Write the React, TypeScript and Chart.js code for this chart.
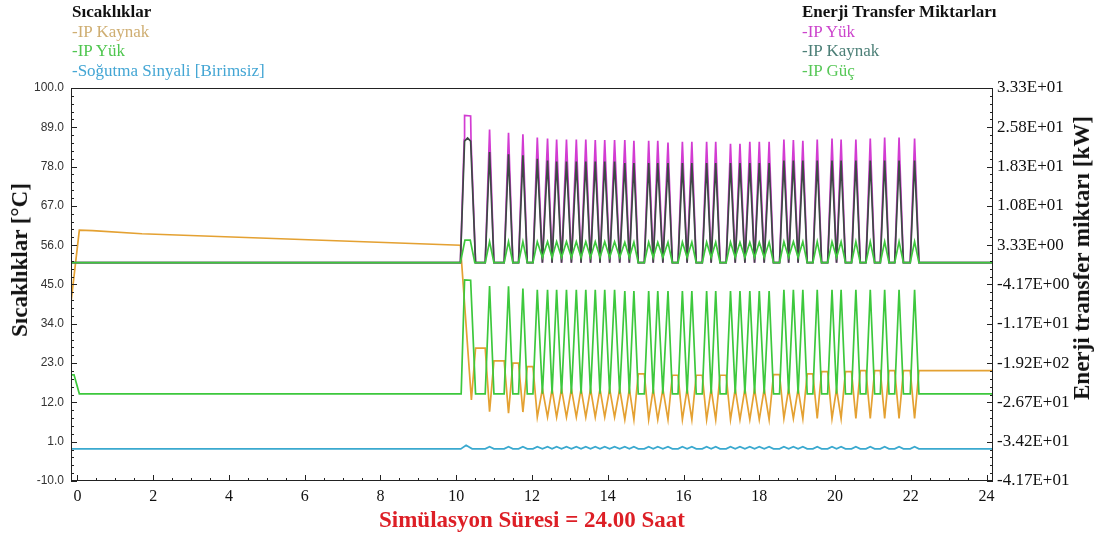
import React, { useEffect, useRef } from 'react';
import { Chart, registerables } from 'chart.js';

Chart.register(...registerables);

// ---------- axes ----------
const X_TICKS = [0, 2, 4, 6, 8, 10, 12, 14, 16, 18, 20, 22, 24];
const LEFT_TICKS = [-10, 1, 12, 23, 34, 45, 56, 67, 78, 89, 100];
const RIGHT_TICKS = [-41.67, -34.17, -26.67, -19.17, -11.67, -4.17, 3.33, 10.83, 18.33, 25.83, 33.33];
const RIGHT_TICK_LABELS = ['-4.17E+01', '-3.42E+01', '-2.67E+01', '-1.92E+02', '-1.17E+01', '-4.17E+00', '3.33E+00', '1.08E+01', '1.83E+01', '2.58E+01', '3.33E+01'];

// ---------- data (hours, values) ----------
// start-up part of each series (until the first big cycle ends)
const KAYNAK_TEMP_LEAD: [number, number][] = [[-0.17, 40], [-0.15, 40], [0.05, 60.2], [0.4, 60.1], [1.7, 59.2], [10.11, 56.0], [10.4, 12.7], [10.51, 27.2]];
const YUK_TEMP_LEAD: [number, number][] = [[-0.17, 19.7], [-0.09, 19.7], [0.05, 14.4], [10.13, 14.4], [10.22, 46.3], [10.38, 46.2], [10.51, 14.4]];
const SIGNAL_LEAD: [number, number][] = [[-0.17, -1], [10.12, -1], [10.26, 0.0], [10.42, -1]];
const YUK_ENERGY_LEAD: [number, number][] = [[-0.17, 0], [10.11, 0], [10.21, 23.5], [10.22, 28.1], [10.38, 28.0], [10.39, 23.5], [10.51, 0]];
const KAYNAK_ENERGY_LEAD: [number, number][] = [[-0.17, 0], [10.11, 0], [10.22, 23.2], [10.3, 23.8], [10.38, 23.2], [10.51, 0]];
const GUC_LEAD: [number, number][] = [[-0.17, 0], [10.11, 0], [10.23, 4.3], [10.37, 4.3], [10.49, 0]];

// on/off cycles: time of each cycle peak
const PEAK_TIMES = [10.88, 11.38, 11.76, 12.14, 12.41, 12.65, 12.91, 13.17, 13.42, 13.67, 13.92, 14.18,
  14.45, 14.69, 15.08, 15.32, 15.59, 15.97, 16.22, 16.61, 16.85, 17.24, 17.49, 17.75, 18.0, 18.26,
  18.65, 18.9, 19.15, 19.53, 19.92, 20.16, 20.55, 20.93, 21.31, 21.69, 22.1];

const YUK_ENERGY_PEAKS = [25.4, 24.8, 24.5, 23.9, 23.7, 23.5, 23.5, 23.5, 23.5, 23.4, 23.4, 23.4,
  23.4, 23.25, 23.25, 23.25, 22.9, 23.05, 23.05, 23.05, 23.05, 22.7, 22.7, 23.05, 23.05, 23.05,
  23.5, 23.4, 23.25, 23.5, 23.7, 23.5, 23.5, 23.7, 23.9, 23.9, 23.7];
const KAYNAK_ENERGY_PEAKS = [21.1, 20.7, 20.5, 19.8, 19.5, 19.3, 19.3, 19.3, 19.3, 19.3, 19.3, 19.3,
  19.0, 19.0, 19.0, 19.0, 19.0, 19.0, 19.0, 19.0, 19.0, 19.0, 19.0, 19.0, 19.0, 19.0,
  19.5, 19.5, 19.5, 19.5, 19.5, 19.5, 19.5, 19.5, 19.5, 19.5, 19.5];
const GUC_PEAKS = [4.0, 4.0, 4.0, 4.0, 4.0, 4.0, 4.0, 4.0, 4.0, 4.0, 4.0, 4.0,
  3.9, 3.9, 3.9, 3.9, 3.9, 3.9, 3.9, 3.9, 3.9, 3.9, 3.9, 3.9, 3.9, 3.9,
  4.0, 4.0, 4.0, 4.0, 4.0, 4.0, 4.0, 4.0, 4.0, 4.0, 4.0];
const YUK_TEMP_PEAKS = [44.6, 44.5, 43.9, 43.5, 43.5, 43.5, 43.5, 43.5, 43.5, 43.5, 43.5, 43.5,
  43.2, 43.2, 43.2, 43.2, 43.2, 43.2, 43.2, 43.2, 43.2, 43.2, 43.2, 43.2, 43.2, 43.2,
  43.5, 43.5, 43.5, 43.5, 43.5, 43.5, 43.5, 43.5, 43.5, 43.5, 43.5];
const KAYNAK_TEMP_MINS = [9.4, 9.0, 9.3, 7.9, 7.9, 7.9, 7.9, 7.9, 7.9, 7.9, 7.9, 7.9,
  7.2, 7.2, 7.2, 7.2, 7.2, 7.2, 7.2, 7.2, 7.2, 7.2, 7.2, 7.2, 7.2, 7.2,
  7.5, 7.5, 7.5, 7.5, 7.5, 7.5, 7.5, 7.5, 7.5, 7.5, 7.5];
const SIGNAL_PEAKS = [-0.4, -0.4, -0.4, -0.4, -0.4, -0.4, -0.4, -0.4, -0.4, -0.4, -0.4, -0.4,
  -0.4, -0.4, -0.4, -0.4, -0.4, -0.4, -0.4, -0.4, -0.4, -0.4, -0.4, -0.4, -0.4, -0.4,
  -0.4, -0.4, -0.4, -0.4, -0.4, -0.4, -0.4, -0.4, -0.4, -0.4, -0.4];
// IP Kaynak temperature level after each cycle (plateau or valley top)
const KAYNAK_TEMP_AFTER = [23.6, 23.0, 22.0, 15.8, 15.8, 15.8, 15.8, 15.8, 15.8, 15.8, 15.8, 15.8, 15.8,
  20.0, 15.8, 15.8, 19.6, 15.8, 19.6, 15.8, 19.6, 15.8, 15.8, 15.8, 15.8,
  19.8, 15.8, 15.8, 20.0, 20.6, 15.8, 20.6, 20.9, 20.9, 20.9, 20.9, 20.9];

const YUK_TEMP_BASE = 14.4;
const SIGNAL_BASE = -1.0;
const GUC_BETWEEN_CLOSE = 1.0;

const KAYNAK_TEMP_TAIL: [number, number][] = [[24.17, 20.9]];
const YUK_TEMP_TAIL: [number, number][] = [[24.17, 14.4]];
const SIGNAL_TAIL: [number, number][] = [[24.17, -1]];
const ENERGY_TAIL: [number, number][] = [[24.17, 0]];

// width of the rising / falling flank of one cycle (hours) and spacing of back-to-back cycles
const FLANK = 0.115;
const CLOSE_GAP = 0.32;

function build(lead: [number, number][], peaks: number[], after: (i: number, close: boolean) => number, tail: [number, number][]) {
  const pts = lead.map(([x, y]) => ({ x, y }));
  let level = lead[lead.length - 1][1];
  const n = PEAK_TIMES.length;
  for (let i = 0; i < n; i++) {
    const t = PEAK_TIMES[i];
    const closeBefore = i > 0 && t - PEAK_TIMES[i - 1] < CLOSE_GAP;
    if (!closeBefore) pts.push({ x: t - FLANK, y: level });
    pts.push({ x: t, y: peaks[i] });
    const closeAfter = i < n - 1 && PEAK_TIMES[i + 1] - t < CLOSE_GAP;
    if (closeAfter) {
      pts.push({ x: (t + PEAK_TIMES[i + 1]) / 2, y: after(i, true) });
    } else {
      level = after(i, false);
      pts.push({ x: t + FLANK, y: level });
    }
  }
  tail.forEach(([x, y]) => pts.push({ x, y }));
  return pts;
}

const C_ORANGE = '#E4A132';
const C_GREEN = '#3DC83D';
const C_BLUE = '#3AA9CF';
const C_MAGENTA = '#D23CD2';
const C_DARK = '#3D4944';

const SERIF = '"Liberation Serif", "Times New Roman", serif';
const SANS = '"Liberation Sans", Arial, sans-serif';

const framePlugin = {
  id: 'frame',
  afterDraw(chart: any) {
    const { ctx, chartArea: a, scales } = chart;
    ctx.save();
    ctx.strokeStyle = '#222';
    ctx.lineWidth = 1;
    ctx.strokeRect(Math.round(a.left) + 0.5, Math.round(a.top) + 0.5, Math.round(a.width) - 1, Math.round(a.height) - 1);
    ctx.beginPath();
    const xs = scales.x;
    const xStep = (X_TICKS[1] - X_TICKS[0]) / 4;
    for (let k = 0; X_TICKS[0] + k * xStep <= X_TICKS[X_TICKS.length - 1] + 1e-9; k++) {
      const px = Math.round(xs.getPixelForValue(X_TICKS[0] + k * xStep)) + 0.5;
      const len = k % 4 === 0 ? 6 : 3;
      ctx.moveTo(px, a.bottom);
      ctx.lineTo(px, a.bottom - len);
    }
    const ys = scales.y;
    const yStep = (LEFT_TICKS[1] - LEFT_TICKS[0]) / 5;
    for (let k = 0; LEFT_TICKS[0] + k * yStep <= LEFT_TICKS[LEFT_TICKS.length - 1] + 1e-9; k++) {
      const py = Math.round(ys.getPixelForValue(LEFT_TICKS[0] + k * yStep)) + 0.5;
      const len = k % 5 === 0 ? 6 : 3;
      ctx.moveTo(a.left, py);
      ctx.lineTo(a.left + len, py);
      ctx.moveTo(a.right, py);
      ctx.lineTo(a.right - len, py);
    }
    ctx.stroke();
    ctx.restore();
  },
};

const line = (label: string, data: any[], color: string, axis: string, order: number) => ({
  label,
  data,
  borderColor: color,
  backgroundColor: color,
  borderWidth: 1.7,
  pointRadius: 0,
  tension: 0,
  yAxisID: axis,
  order,
});

export default function App() {
  const ref = useRef<HTMLCanvasElement>(null);
  useEffect(() => {
    const datasets = [
      line('IP Güç', build(GUC_LEAD, GUC_PEAKS, (i, c) => (c ? GUC_BETWEEN_CLOSE : 0), ENERGY_TAIL), C_GREEN, 'y2', 0),
      line('IP Kaynak (enerji)', build(KAYNAK_ENERGY_LEAD, KAYNAK_ENERGY_PEAKS, () => 0, ENERGY_TAIL), C_DARK, 'y2', 1),
      line('IP Yük (enerji)', build(YUK_ENERGY_LEAD, YUK_ENERGY_PEAKS, () => 0, ENERGY_TAIL), C_MAGENTA, 'y2', 2),
      line('IP Yük', build(YUK_TEMP_LEAD, YUK_TEMP_PEAKS, () => YUK_TEMP_BASE, YUK_TEMP_TAIL), C_GREEN, 'y', 3),
      line('IP Kaynak', build(KAYNAK_TEMP_LEAD, KAYNAK_TEMP_MINS, (i) => KAYNAK_TEMP_AFTER[i], KAYNAK_TEMP_TAIL), C_ORANGE, 'y', 4),
      line('Soğutma Sinyali [Birimsiz]', build(SIGNAL_LEAD, SIGNAL_PEAKS, () => SIGNAL_BASE, SIGNAL_TAIL), C_BLUE, 'y', 5),
    ];
    const chart = new Chart(ref.current as HTMLCanvasElement, {
      type: 'line',
      data: { datasets },
      plugins: [framePlugin],
      options: {
        animation: false,
        responsive: true,
        maintainAspectRatio: false,
        devicePixelRatio: 1,
        layout: { padding: { top: 88, left: 0, right: 0, bottom: 0 } },
        plugins: { legend: { display: false }, tooltip: { enabled: false } },
        scales: {
          x: {
            type: 'linear',
            min: -0.17,
            max: 24.17,
            afterBuildTicks: (s: any) => { s.ticks = X_TICKS.map((v) => ({ value: v })); },
            afterFit: (s: any) => { s.height = 61; },
            grid: { display: false, drawTicks: false },
            border: { display: false },
            ticks: { padding: 6, color: '#111', font: { family: SERIF, size: 16 }, callback: (v: any) => String(v) },
            title: {
              display: true,
              text: 'Simülasyon Süresi = 24.00 Saat',
              color: '#DD1F26',
              font: { family: SERIF, size: 23, weight: 'bold' },
              padding: { top: 0, bottom: 7 },
            },
          },
          y: {
            type: 'linear',
            position: 'left',
            min: -10,
            max: 100,
            afterBuildTicks: (s: any) => { s.ticks = LEFT_TICKS.map((v) => ({ value: v })); },
            afterFit: (s: any) => { s.width = 71; },
            grid: { display: false, drawTicks: false },
            border: { display: false },
            ticks: { padding: 7, color: '#333', font: { family: SANS, size: 12 }, callback: (v: any) => Number(v).toFixed(1) },
          },
          y2: {
            type: 'linear',
            position: 'right',
            min: -41.67,
            max: 33.33,
            afterBuildTicks: (s: any) => { s.ticks = RIGHT_TICKS.map((v) => ({ value: v })); },
            afterFit: (s: any) => { s.width = 104; },
            grid: { display: false, drawTicks: false },
            border: { display: false },
            ticks: {
              padding: 4,
              color: '#111',
              font: { family: SERIF, size: 17 },
              callback: (v: any, i: number) => RIGHT_TICK_LABELS[i],
            },
          },
        },
      },
    } as any);
    return () => chart.destroy();
  }, []);

  const legendBox: React.CSSProperties = {
    position: 'absolute',
    top: 2,
    fontFamily: SERIF,
    fontSize: 17,
    lineHeight: '19.7px',
    whiteSpace: 'nowrap',
  };
  const axisTitle: React.CSSProperties = {
    position: 'absolute',
    fontFamily: SERIF,
    fontWeight: 'bold',
    fontSize: 23,
    color: '#111',
    whiteSpace: 'nowrap',
    transform: 'translate(-50%, -50%) rotate(-90deg)',
  };

  return (
    <div style={{ position: 'fixed', left: 0, top: 0, width: 1097, height: 542, background: '#fff', overflow: 'hidden' }}>
      <div style={{ position: 'absolute', left: 0, top: 0, width: 1097, height: 542 }}>
        <canvas ref={ref} />
      </div>
      <div style={{ ...legendBox, left: 72 }}>
        <div style={{ fontWeight: 'bold', color: '#111' }}>Sıcaklıklar</div>
        <div style={{ color: '#CFAE72' }}>-IP Kaynak</div>
        <div style={{ color: '#4FC64F' }}>-IP Yük</div>
        <div style={{ color: '#44A6D4' }}>-Soğutma Sinyali [Birimsiz]</div>
      </div>
      <div style={{ ...legendBox, left: 802 }}>
        <div style={{ fontWeight: 'bold', color: '#111' }}>Enerji Transfer Miktarları</div>
        <div style={{ color: '#CC44CC' }}>-IP Yük</div>
        <div style={{ color: '#4C7F77' }}>-IP Kaynak</div>
        <div style={{ color: '#58C858' }}>-IP Güç</div>
      </div>
      <div style={{ ...axisTitle, left: 20, top: 260 }}>Sıcaklıklar [°C]</div>
      <div style={{ ...axisTitle, left: 1082, top: 258 }}>Enerji transfer miktarı [kW]</div>
    </div>
  );
}
